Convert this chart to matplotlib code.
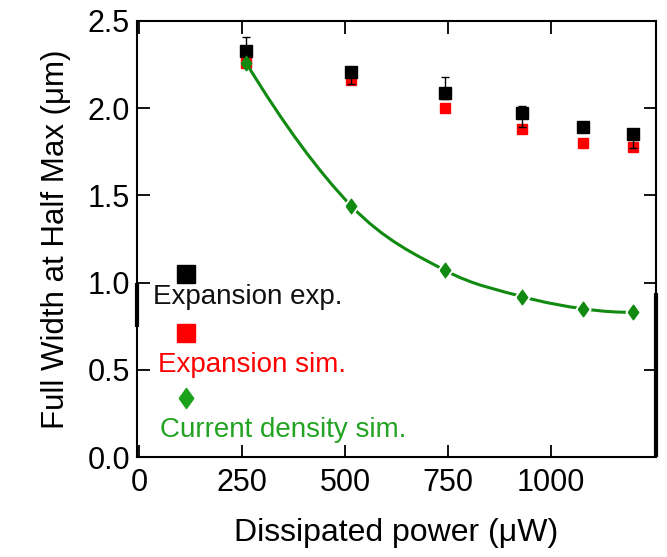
import matplotlib
matplotlib.use("Agg")
import matplotlib.pyplot as plt
import numpy as np
from matplotlib.path import Path
from matplotlib.patches import PathPatch

plt.rcParams["font.family"] = ["Liberation Sans", "DejaVu Sans"]

# data
power = [260, 515, 743, 930, 1078, 1199]
exp_fwhm = [2.33, 2.21, 2.09, 1.97, 1.89, 1.85]
exp_err_low = [0.08, 0.07, 0.04, 0.08, 0.02, 0.08]
exp_err_high = [0.08, 0.02, 0.09, 0.04, 0.02, 0.03]
sim_fwhm = [2.26, 2.16, 2.00, 1.88, 1.80, 1.78]
current_fwhm = [2.26, 1.44, 1.07, 0.92, 0.85, 0.83]

GREEN = "#118a11"
GREEN_TXT = "#22a322"
RED = "#ff0000"

diamond = [(-0.72, 0), (0, 1), (0.72, 0), (0, -1), (-0.72, 0)]


def smooth_path(xs, ys, ax):
    # Catmull-Rom through the points, drawn as cubic Bezier segments
    x0, x1 = ax.get_xlim()
    y0, y1 = ax.get_ylim()
    p = np.column_stack([(np.array(xs) - x0) / (x1 - x0),
                         (np.array(ys) - y0) / (y1 - y0)])
    # quadratic ghost points at both ends
    first = 3 * p[0] - 3 * p[1] + p[2]
    last = 3 * p[-1] - 3 * p[-2] + p[-3]
    p = np.vstack([first, p, last])
    verts = [p[1]]
    codes = [Path.MOVETO]
    for i in range(1, len(p) - 2):
        c1 = p[i] + (p[i + 1] - p[i - 1]) / 6
        c2 = p[i + 1] - (p[i + 2] - p[i]) / 6
        verts += [c1, c2, p[i + 1]]
        codes += [Path.CURVE4] * 3
    verts = np.array(verts)
    verts[:, 0] = verts[:, 0] * (x1 - x0) + x0
    verts[:, 1] = verts[:, 1] * (y1 - y0) + y0
    return Path(verts, codes)


fig = plt.figure(figsize=(6.67, 5.57), dpi=100)
ax = fig.add_axes([0.2054, 0.1795, 0.7781, 0.7828])
ax.set_xlim(-5, 1255)
ax.set_ylim(0, 2.5)

ax.plot(power, sim_fwhm, "s", color=RED, ms=7.5, zorder=2)
ax.errorbar(power, exp_fwhm, yerr=[exp_err_low, exp_err_high], fmt="s",
            color="black", ms=8, elinewidth=1, capsize=3, capthick=1, zorder=3)

ax.add_patch(PathPatch(smooth_path(power, current_fwhm, ax), fill=False,
                       edgecolor=GREEN, lw=2.2, zorder=4))
ax.plot(power[1:], current_fwhm[1:], linestyle="none", marker=diamond,
        ms=15, color="white", mec="white", zorder=5)
ax.plot(power, current_fwhm, linestyle="none", marker=diamond,
        ms=10.5, color=GREEN, mec=GREEN, zorder=6)

# hand-made legend (marker above label)
ax.plot([0.094], [0.420], "s", color="black", ms=13, transform=ax.transAxes)
ax.text(0.031, 0.367, "Expansion exp.", color="#111111", fontsize=20,
        va="center", ha="left", transform=ax.transAxes)
ax.plot([0.094], [0.284], "s", color=RED, ms=13, transform=ax.transAxes)
ax.text(0.040, 0.211, "Expansion sim.", color=RED, fontsize=20,
        va="center", ha="left", transform=ax.transAxes)
ax.plot([0.094], [0.135], linestyle="none", marker=diamond, ms=14.5,
        color="#1aa31a", transform=ax.transAxes)
ax.text(0.044, 0.062, "Current density sim.", color=GREEN_TXT, fontsize=20,
        va="center", ha="left", transform=ax.transAxes)

ax.set_xticks([0, 250, 500, 750, 1000])
ax.set_yticks([0.0, 0.5, 1.0, 1.5, 2.0, 2.5])
ax.set_yticklabels(["0.0", "0.5", "1.0", "1.5", "2.0", "2.5"])
ax.tick_params(direction="in", length=9, width=1.3, labelsize=22,
               top=True, right=True, pad=5)
ax.tick_params(axis="x", pad=8)
for s in ax.spines.values():
    s.set_linewidth(1.5)

# heavier spine segments seen in the scan
ax.plot([0, 0], [0.298, 0.399], color="black", lw=3, transform=ax.transAxes,
        clip_on=False, solid_capstyle="butt")
ax.plot([1, 1], [0, 0.376], color="black", lw=3, transform=ax.transAxes,
        clip_on=False, solid_capstyle="butt")

ax.set_xlabel("Dissipated power (μW)", fontsize=23, labelpad=14)
ax.set_ylabel("Full Width at Half Max (μm)", fontsize=22.5, labelpad=12)

fig.savefig("out.png", dpi=100)
